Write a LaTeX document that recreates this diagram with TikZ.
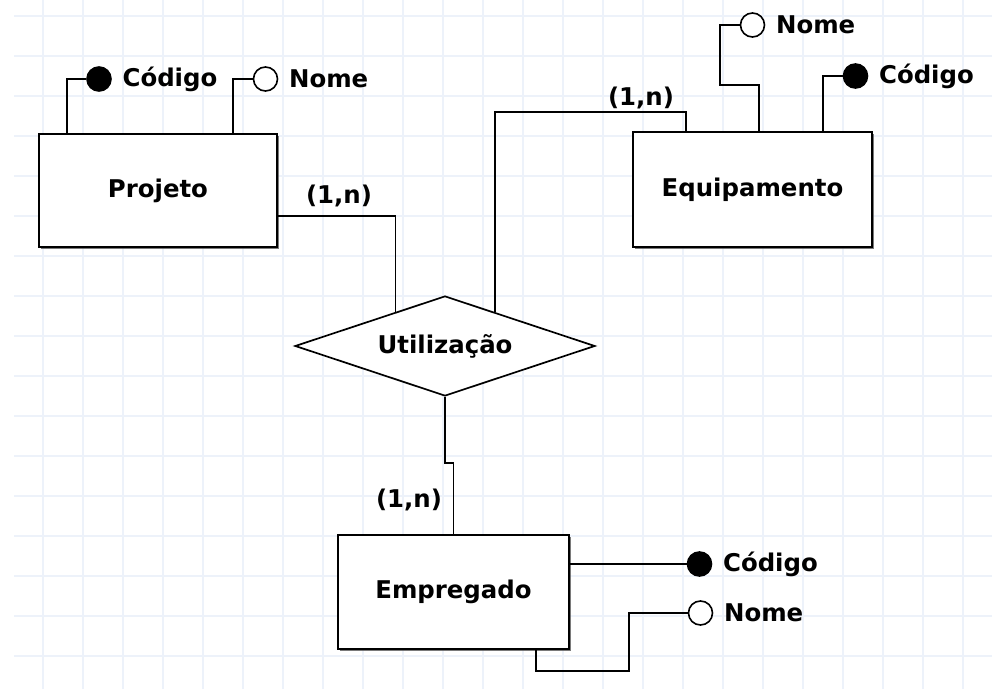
\documentclass[tikz,border=0pt]{standalone}
\usepackage{fontspec}
\setmainfont{DejaVu Sans}
\usetikzlibrary{shapes.geometric,shadows,positioning,calc}
\definecolor{grade}{RGB}{237,242,250}

\begin{document}
\begin{tikzpicture}[x=0.5pt,y=-0.5pt,line width=0.8pt,
    font=\bfseries\fontsize{12.2}{14}\selectfont]

      \useasboundingbox (0,0) rectangle (992,689);
      \fill[white] (0,0) rectangle (992,689);
      \foreach \x in {43,83,...,963} \draw[grade,line width=0.9pt] (\x,0) -- (\x,689);
      \foreach \y in {16,56,...,656} \draw[grade,line width=0.9pt] (14,\y) -- (992,\y);

      \begin{scope}[every node/.style={draw,fill=white,line width=0.95pt,
          drop shadow={shadow xshift=1.1pt,shadow yshift=-1.1pt,opacity=0.8,fill=black!65}}]
        \node[minimum width=119pt,minimum height=56.5pt]   (projeto)     at (158,190.5)   {Projeto};
        \node[minimum width=119.5pt,minimum height=57.5pt] (equipamento) at (752.5,189.5) {Equipamento};
        \node[minimum width=115.5pt,minimum height=57pt]   (empregado)   at (453.5,592)   {Empregado};
      \end{scope}

      \node[draw,fill=white,diamond,aspect=3,minimum width=150pt,minimum height=50pt,
        inner sep=0pt,line width=0.85pt] (utilizacao) at (445,346) {Utilização};

      \begin{scope}[every node/.style={circle,draw,minimum size=12pt,inner sep=0pt}]
        \node[fill=black] (projcod)   at (99,79)     {};
        \node[fill=white] (projnome)  at (265.5,79)  {};
        \node[fill=white] (equipnome) at (752.5,25)  {};
        \node[fill=black] (equipcod)  at (855.5,76)  {};
        \node[fill=black] (empcod)    at (699.5,564) {};
        \node[fill=white] (empnome)   at (700.5,613) {};
      \end{scope}

      \begin{scope}[every node/.style={inner sep=1pt}]
        \node[right=4pt of projcod]   (projcodtxt)   {Código};
        \node[right=4pt of projnome]  (projnometxt)  {Nome};
        \node[right=4pt of equipnome] (equipnometxt) {Nome};
        \node[right=4pt of equipcod]  (equipcodtxt)  {Código};
        \node[right=4pt of empcod]    (empcodtxt)    {Código};
        \node[right=4pt of empnome]   (empnometxt)   {Nome};
        \node (cardprojeto)     at (339,196) {(1,n)};
        \node (cardequipamento) at (641,98)  {(1,n)};
        \node (cardempregado)   at (409,500) {(1,n)};
      \end{scope}

      \draw ([yshift=-12.75pt]projeto.east) -| ($(utilizacao.north)!0.327!(utilizacao.west)$);
      \draw ($(utilizacao.north)!0.333!(utilizacao.east)$) |- ([xshift=-33.25pt,yshift=9.5pt]equipamento.north)
        -- ([xshift=-33.25pt]equipamento.north);
      \draw (utilizacao.south) |- ([yshift=35.5pt]empregado.north) -- (empregado.north);

      \draw ([xshift=-45.5pt]projeto.north) |- (projcod);
      \draw ([xshift=37.5pt]projeto.north) |- (projnome);
      \draw ([xshift=3.25pt]equipamento.north) -- ++(0,23pt) -| ([xshift=-10pt]equipnome.west) -- (equipnome);
      \draw ([xshift=35.25pt]equipamento.north) |- (equipcod);
      \draw (empregado.east |- empcod) -- (empcod);
      \draw ([xshift=41.25pt]empregado.south) -- ++(0,-10.5pt) -| ([xshift=-29.5pt]empnome.west) -- (empnome);

    \end{tikzpicture}
\end{document}
